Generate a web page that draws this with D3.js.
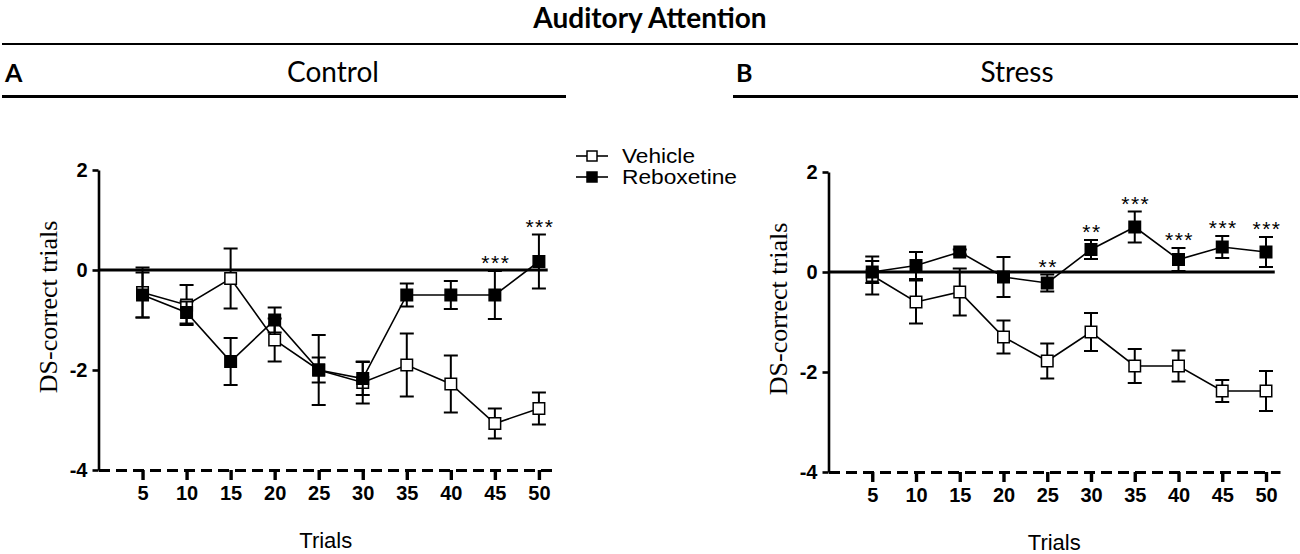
<!DOCTYPE html>
<html><head><meta charset="utf-8">
<script src="https://cdn.jsdelivr.net/npm/d3@7"></script>
<style>body{margin:0;background:#fff}svg{display:block}</style>
</head><body>
<svg id="c" width="1300" height="554"></svg>
<script>
const trials = [5,10,15,20,25,30,35,40,45,50];
const yTicks = [2,0,-2,-4];
const seriesNames = ["Vehicle","Reboxetine"];
// Control
const ctrlVehicle    = [-0.45,-0.70,-0.17,-1.40,-2.00,-2.25,-1.90,-2.28,-3.07,-2.77];
const ctrlVehicleErr = [0.50,0.40,0.60,0.43,0.70,0.42,0.63,0.57,0.30,0.32];
const ctrlReb        = [-0.50,-0.85,-1.83,-1.00,-2.00,-2.17,-0.50,-0.50,-0.50,0.17];
const ctrlRebErr     = [0.45,0.22,0.47,0.25,0.25,0.33,0.23,0.28,0.48,0.54];
const ctrlStars      = ["","","","","","","","","***","***"];
// Stress
const strVehicle     = [-0.07,-0.60,-0.40,-1.30,-1.78,-1.20,-1.88,-1.88,-2.38,-2.38];
const strVehicleErr  = [0.38,0.43,0.47,0.33,0.35,0.38,0.34,0.31,0.22,0.40];
const strReb         = [0.00,0.13,0.40,-0.10,-0.22,0.45,0.90,0.25,0.50,0.40];
const strRebErr      = [0.22,0.27,0.05,0.40,0.17,0.19,0.31,0.23,0.22,0.30];
const strStars       = ["","","","","**","**","***","***","***","***"];

const svg = d3.select("#c");
const sans = "Arial, 'Liberation Sans', sans-serif";

// Header
svg.append("text").attr("x",650).attr("y",28).attr("text-anchor","middle")
  .attr("font-family","Lato, 'Open Sans', sans-serif").attr("font-weight","bold").attr("font-size",28)
  .text("Auditory Attention");
svg.append("line").attr("x1",2).attr("x2",1298).attr("y1",44).attr("y2",44).attr("stroke","#000").attr("stroke-width",2);

function header(x0,x1,cx,letter,title){
  svg.append("text").attr("x",x0+3).attr("y",82).attr("font-family","Lato, sans-serif").attr("font-weight","bold")
    .attr("font-size",25).text(letter);
  svg.append("text").attr("x",cx).attr("y",82).attr("text-anchor","middle")
    .attr("font-family","Lato, sans-serif").attr("font-size",28).text(title);
  svg.append("line").attr("x1",x0).attr("x2",x1).attr("y1",96.5).attr("y2",96.5).attr("stroke","#000").attr("stroke-width",3);
}
header(2,566,333,"A","Control");
header(733,1298,1017,"B","Stress");

function panel(left,right,yTop,veh,vehErr,reb,rebErr,stars){
  const x = d3.scaleLinear().domain([0,51.6]).range([left,right]);
  const y = d3.scaleLinear().domain([-4,2]).range([yTop+300,yTop]);
  const g = svg.append("g");
  // y axis
  const ya = g.append("g").attr("transform",`translate(${left},0)`)
    .call(d3.axisLeft(y).tickValues(yTicks).tickSize(6).tickSizeOuter(0).tickPadding(5).tickFormat(d=>String(d)));
  ya.select(".domain").attr("stroke-width",2.6);
  ya.selectAll(".tick line").attr("stroke-width",2.6);
  ya.selectAll("text").attr("font-family",sans).attr("font-weight","bold").attr("font-size",20);
  // x axis dashed
  const xa = g.append("g").attr("transform",`translate(0,${y(-4)})`)
    .call(d3.axisBottom(x).tickValues(trials).tickSize(10).tickSizeOuter(0).tickPadding(6));
  xa.select(".domain").attr("stroke-width",3).attr("stroke-dasharray","11,6");
  xa.selectAll(".tick line").attr("stroke-width",3.4);
  xa.selectAll("text").attr("font-family",sans).attr("font-weight","bold").attr("font-size",20);
  // zero line
  g.append("line").attr("x1",left).attr("x2",x(51)).attr("y1",y(0)).attr("y2",y(0))
    .attr("stroke","#000").attr("stroke-width",2.8);
  // labels
  g.append("text").attr("transform",`translate(${left-42},${y(-0.74)}) rotate(-90)`).attr("text-anchor","middle")
    .attr("font-family","'Liberation Serif','Times New Roman',serif").attr("font-size",26).text("DS-correct trials");
  g.append("text").attr("x",(left+right)/2).attr("y",yTop+378).attr("text-anchor","middle")
    .attr("font-family",sans).attr("font-size",22).text("Trials");

  const line = d3.line().x((d,i)=>x(trials[i])).y(d=>y(d));
  const cw = 7, s = 13;
  function series(vals,errs,fill){
    const sg = g.append("g");
    sg.append("path").attr("d",line(vals)).attr("fill","none").attr("stroke","#000").attr("stroke-width",1.6);
    vals.forEach((v,i)=>{
      const cx = x(trials[i]);
      const t = y(v+errs[i]), b = y(v-errs[i]);
      sg.append("line").attr("x1",cx).attr("x2",cx).attr("y1",t).attr("y2",b).attr("stroke","#000").attr("stroke-width",2);
      [t,b].forEach(yy=>sg.append("line").attr("x1",cx-cw).attr("x2",cx+cw).attr("y1",yy).attr("y2",yy).attr("stroke","#000").attr("stroke-width",2));
    });
    sg.selectAll("rect").data(vals).enter().append("rect")
      .attr("x",(d,i)=>x(trials[i])-s/2+0.75).attr("y",d=>y(d)-s/2+0.75).attr("width",s-1.5).attr("height",s-1.5)
      .attr("fill",fill).attr("stroke","#000").attr("stroke-width",1.5);
  }
  series(veh,vehErr,"#fff");
  series(reb,rebErr,"#000");
  stars.forEach((st,i)=>{
    if(!st) return;
    const top = Math.max(reb[i]+rebErr[i], veh[i]+vehErr[i]);
    g.append("text").attr("x",x(trials[i])+1).attr("y",y(top)-1).attr("text-anchor","middle")
      .attr("font-family",sans).attr("font-size",21).attr("letter-spacing",1.5).text(st);
  });
}
panel(98.5,553,170,ctrlVehicle,ctrlVehicleErr,ctrlReb,ctrlRebErr,ctrlStars);
panel(828.5,1280,172,strVehicle,strVehicleErr,strReb,strRebErr,strStars);

// legend
const leg = svg.append("g");
const legLen = [73,115];
seriesNames.forEach((n,i)=>{
  const yy = 156 + i*21;
  leg.append("line").attr("x1",576).attr("x2",608).attr("y1",yy).attr("y2",yy).attr("stroke","#000").attr("stroke-width",1.6);
  leg.append("rect").attr("x",587).attr("y",yy-5).attr("width",10).attr("height",10)
    .attr("fill",i===0?"#fff":"#000").attr("stroke","#000").attr("stroke-width",1.5);
  leg.append("text").attr("x",622).attr("y",yy+7).attr("font-family",sans).attr("font-size",20)
    .attr("textLength",legLen[i]).attr("lengthAdjust","spacingAndGlyphs").text(n);
});
</script>
</body></html>
